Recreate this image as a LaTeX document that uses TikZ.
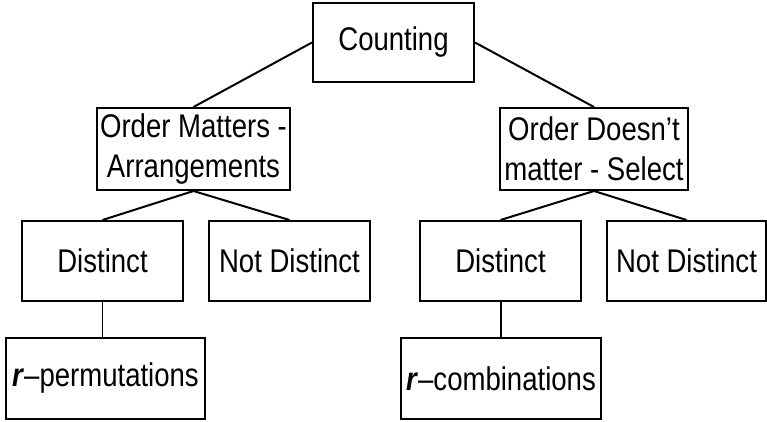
\documentclass[tikz,border=0pt]{standalone}
\usepackage{fontspec}
\setmainfont{Liberation Sans}[FakeStretch=0.84]
\usetikzlibrary{positioning}

\tikzset{
  box/.style={draw, line width=1.7pt, align=center, inner sep=2pt,
    font=\fontsize{28}{34}\selectfont},
  link/.style={line width=1.7pt}
}

\begin{document}
\begin{tikzpicture}[x=0.03cm, y=-0.03cm]

\useasboundingbox (0,0) rectangle (767,421);

% Top box
\node[box, minimum width=4.83cm, minimum height=2.37cm] (count) at (393.5,42.5) {Counting};

% Second row
\node[box, minimum width=5.79cm, minimum height=2.46cm] (ordm) at (193.5,149) {Order Matters -\\Arrangements};
\node[box, minimum width=5.64cm, minimum height=2.46cm] (ordn) at (594,149) {Order Doesn’t\\matter - Select};

% Third row
\node[box, minimum width=4.83cm, minimum height=2.4cm] (distl) at (102.5,261) {Distinct};
\node[box, minimum width=4.83cm, minimum height=2.4cm] (ndistl) at (289.5,261) {Not Distinct};
\node[box, minimum width=4.83cm, minimum height=2.4cm] (distr) at (500.5,261) {Distinct};
\node[box, minimum width=4.77cm, minimum height=2.4cm] (ndistr) at (686.5,261) {Not Distinct};

% Bottom row
\node[box, minimum width=5.97cm, minimum height=2.43cm] (perm) at (105.5,378.5) {\textbf{\textit{r}}–permutations};
\node[box, minimum width=6cm, minimum height=2.43cm] (comb) at (501,378.5) {\textbf{\textit{r}}–combinations};

\draw[link] (count.west) -- (ordm.north);
\draw[link] (count.east) -- (ordn.north);

\draw[link] (ordm.south) -- (distl.north);
\draw[link] (ordm.south) -- (ndistl.north);
\draw[link] (ordn.south) -- (distr.north);
\draw[link] (ordn.south) -- (ndistr.north);

\draw[link] (distl.south) -- (distl.south |- perm.north);
\draw[link] (distr.south) -- (distr.south |- comb.north);

\end{tikzpicture}
\end{document}
